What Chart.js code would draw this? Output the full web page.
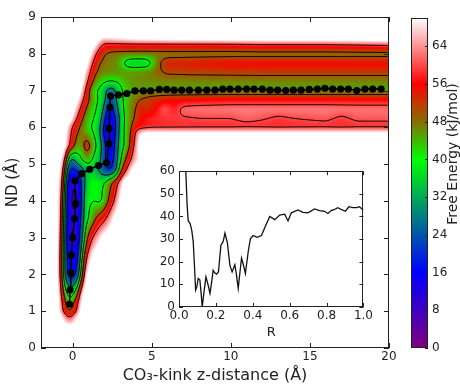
<!DOCTYPE html>
<html>
<head>
<meta charset="utf-8">
<script src="https://cdn.jsdelivr.net/npm/chart.js@4.4.1/dist/chart.umd.min.js"></script>
<style>
  html, body { margin: 0; padding: 0; background: #fff; }
  #wrap { position: relative; width: 460px; height: 385px; overflow: hidden; }
  canvas { position: absolute; }
</style>
</head>
<body>
<div id="wrap">
  <canvas id="main" width="460" height="385" style="left:0;top:0"></canvas>
  <canvas id="inset" width="235" height="180" style="left:140px;top:160px"></canvas>
  <canvas id="cbar" width="60" height="385" style="left:400px;top:0"></canvas>
</div>
<script>
// minimum energy path (black dots)
const pathX = [-0.2, -0.16, -0.12, -0.08, 0.0, 0.12, 0.18, 0.15, 0.57, 1.08, 1.63, 2.15, 2.3, 2.3, 2.36, 2.4,
  2.9, 3.42, 3.94, 4.47, 4.93, 5.48, 5.95, 6.41, 6.89, 7.38, 7.95, 8.48, 9.0, 9.49, 9.95, 10.47, 11.0,
  11.47, 11.99, 12.48, 12.96, 13.47, 13.95, 14.44, 14.96, 15.47, 15.95, 16.44, 16.94, 17.43, 17.96, 18.48, 18.97, 19.5]
const pathY = [1.19, 1.58, 2.04, 2.52, 3.0, 3.52, 3.92, 4.55, 4.74, 4.86, 4.96, 5.04, 5.56, 5.97, 6.54, 6.85,
  6.88, 6.92, 6.99, 6.99, 6.99, 7.03, 7.03, 7.01, 7.01, 7.01, 7.01, 7.01, 7.01, 7.04, 7.04, 7.04, 7.04,
  7.04, 7.04, 7.01, 7.01, 7.0, 7.01, 7.01, 7.03, 7.04, 7.06, 7.04, 7.04, 7.04, 7.0, 7.04, 7.04, 7.04]

// inset: free energy along R
const insetR = [0.036, 0.044, 0.05, 0.06, 0.069, 0.077, 0.084, 0.09, 0.097, 0.104, 0.113, 0.12, 0.126, 0.133,
  0.146, 0.157, 0.168, 0.177, 0.185, 0.195, 0.204, 0.214, 0.227, 0.24, 0.249, 0.262, 0.276, 0.288, 0.303,
  0.312, 0.321, 0.33, 0.339, 0.348, 0.36, 0.375, 0.387, 0.402, 0.423, 0.447, 0.47, 0.492, 0.519, 0.546,
  0.573, 0.591, 0.609, 0.645, 0.672, 0.699, 0.735, 0.762, 0.789, 0.807, 0.825, 0.843, 0.861, 0.879, 0.902,
  0.921, 0.942, 0.964, 0.978, 1.0]
const insetE = [62, 45, 38, 37, 34, 29, 18, 7.5, 9, 12.6, 12, 6, 0, 5, 13.3, 10, 6, 11, 16.2, 15, 14.5,
  15.6, 27.2, 29, 32.6, 28.6, 18.4, 15.5, 18.7, 14, 8.2, 15, 21.6, 19, 14.8, 24.3, 30.1, 31.6, 30.8, 31.6,
  36, 40, 38.6, 40.6, 41, 38, 41.6, 42.9, 41.8, 41.6, 43.3, 42.6, 42.3, 41.3, 42.6, 43.1, 43.9, 43.1, 42.3,
  44.3, 43.9, 43.9, 44.3, 42.8]

// free energy surface: one profile [x, kJ/mol] per ND row (75 = no data / white)
const feRowY = [0.5, 0.85, 1.0, 1.25, 1.5, 2.0, 2.5, 3.0, 3.5, 4.0, 4.5, 4.85, 5.1, 5.5, 5.85, 6.0, 6.25,
  6.5, 6.75, 7.0, 7.25, 7.5, 7.75, 8.0, 8.25, 8.4, 8.55]
const feRows = [
  [[0, 75]],
  [[-0.9, 75], [-0.55, 66], [-0.2, 58], [0.15, 66], [0.5, 75]],
  [[-1.0, 75], [-0.65, 62], [-0.45, 54], [-0.2, 48], [0.05, 54], [0.3, 62], [0.6, 75]],
  [[-1.0, 75], [-0.7, 62], [-0.5, 52], [-0.2, 40], [0.1, 50], [0.38, 62], [0.7, 75]],
  [[-1.0, 75], [-0.74, 62], [-0.58, 50], [-0.4, 40], [-0.15, 34], [0.1, 38], [0.3, 48], [0.48, 62], [0.8, 75]],
  [[-1.1, 75], [-0.78, 62], [-0.66, 50], [-0.56, 36], [-0.45, 22], [-0.2, 16], [0.15, 17], [0.35, 24], [0.5, 40], [0.62, 52], [0.75, 62], [1.0, 75]],
  [[-1.1, 75], [-0.78, 62], [-0.66, 50], [-0.56, 34], [-0.45, 20], [0.0, 13], [0.35, 17], [0.5, 28], [0.62, 42], [0.8, 56], [1.0, 64], [1.3, 72], [1.5, 75]],
  [[-1.1, 75], [-0.75, 62], [-0.64, 50], [-0.55, 34], [-0.45, 18], [-0.05, 6], [0.3, 14], [0.5, 20], [0.65, 34], [0.85, 46], [1.05, 55], [1.35, 62], [1.9, 72], [2.2, 75]],
  [[-1.1, 75], [-0.72, 62], [-0.62, 50], [-0.53, 32], [-0.42, 17], [0.05, 11], [0.4, 14], [0.6, 22], [0.75, 36], [1.0, 40], [1.25, 45], [1.5, 52], [1.9, 57], [2.2, 62], [2.6, 72], [2.9, 75]],
  [[-1.1, 75], [-0.7, 62], [-0.6, 50], [-0.5, 32], [-0.4, 16], [0.15, 6], [0.5, 15], [0.68, 28], [0.85, 38], [1.3, 40], [1.8, 38], [2.1, 46], [2.4, 54], [2.7, 62], [3.0, 72], [3.3, 75]],
  [[-1.1, 75], [-0.65, 62], [-0.55, 50], [-0.46, 32], [-0.36, 16], [0.15, 9], [0.5, 17], [0.75, 30], [1.0, 38], [1.4, 40], [1.9, 38], [2.2, 44], [2.5, 50], [2.8, 58], [3.0, 64], [3.3, 75]],
  [[-1.0, 75], [-0.58, 62], [-0.47, 50], [-0.38, 30], [-0.25, 18], [0.3, 20], [0.6, 28], [1.0, 34], [1.4, 34], [1.9, 24], [2.3, 18], [2.7, 24], [2.9, 40], [3.1, 50], [3.3, 56], [3.5, 64], [3.8, 72], [4.2, 75]],
  [[-0.9, 75], [-0.5, 62], [-0.38, 50], [-0.25, 32], [-0.05, 24], [0.25, 34], [0.6, 40], [0.95, 45], [1.3, 38], [1.7, 34], [1.95, 22], [2.3, 16], [2.65, 20], [2.9, 34], [3.15, 44], [3.4, 52], [3.65, 60], [4.0, 68], [4.5, 72], [4.8, 75]],
  [[-0.6, 75], [-0.25, 62], [-0.05, 54], [0.2, 48], [0.45, 42], [0.9, 57], [1.3, 44], [1.6, 38], [1.85, 30], [2.05, 20], [2.35, 12], [2.65, 18], [2.85, 30], [3.1, 38], [3.4, 42], [3.6, 50], [3.8, 58], [4.0, 64], [4.3, 75]],
  [[-0.55, 75], [-0.15, 62], [0.05, 55], [0.35, 49], [0.7, 47], [1.1, 42], [1.5, 38], [1.8, 28], [2.0, 16], [2.3, 8], [2.6, 15], [2.85, 27], [3.1, 38], [3.4, 42], [3.65, 50], [3.9, 58], [4.2, 68], [4.6, 72]],
  [[-0.5, 75], [-0.1, 62], [0.1, 56], [0.4, 50], [0.7, 46], [1.1, 40], [1.5, 38], [1.8, 28], [2.0, 16], [2.3, 7], [2.6, 14], [2.85, 26], [3.1, 38], [3.4, 42], [3.7, 50], [4.0, 56], [5.0, 58]],
  [[-0.2, 75], [0.2, 62], [0.4, 56], [0.65, 50], [0.9, 44], [1.3, 40], [1.6, 38], [1.85, 30], [2.05, 18], [2.35, 12], [2.65, 17], [2.9, 28], [3.15, 38], [3.5, 44], [3.8, 49], [4.2, 54], [4.6, 57], [5.0, 58], [6.0, 59], [8, 60], [10, 60], [11, 61.5], [12, 60.5], [13, 59], [14, 60], [16, 61], [17, 59], [18, 61], [20, 61]],
  [[0, 75], [0.4, 62], [0.6, 56], [0.85, 50], [1.1, 44], [1.5, 40], [1.8, 36], [2.05, 24], [2.35, 16], [2.65, 22], [2.9, 32], [3.2, 40], [3.6, 46], [4.0, 50], [4.3, 55], [4.7, 52], [5.2, 55], [5.8, 61.5], [6.4, 57], [7, 62], [8, 62.5], [10, 63], [12, 63], [14, 63], [16, 63], [18, 62.5], [20, 62.5]],
  [[0.2, 75], [0.6, 62], [0.8, 56], [1.05, 50], [1.3, 44], [1.6, 40], [1.9, 36], [2.1, 28], [2.4, 22], [2.7, 28], [2.95, 36], [3.3, 42], [3.7, 46], [4.2, 50], [5, 53], [6, 55], [8, 56], [10, 56.5]],
  [[0.4, 75], [0.75, 62], [0.95, 54], [1.15, 46], [1.4, 41], [1.8, 38], [2.1, 30], [2.45, 24], [2.8, 32], [3.1, 40], [3.5, 44], [4, 45]],
  [[0.5, 75], [0.9, 62], [1.1, 55], [1.35, 48], [1.7, 43], [2.0, 41], [2.4, 40], [2.9, 41], [3.3, 44], [3.8, 46], [4.5, 46.5], [20, 46.5]],
  [[0.6, 75], [1.05, 62], [1.25, 55], [1.5, 50], [1.8, 47], [2.2, 46.5], [2.7, 46], [3.2, 46], [3.8, 46], [4.5, 46.5], [5.0, 47.5], [5.5, 49.5], [6, 51], [8, 51.5], [12, 52]],
  [[0.8, 75], [1.2, 62], [1.4, 56], [1.7, 50], [2.2, 47], [2.8, 46.5], [3.2, 40], [3.5, 35], [4.1, 34], [4.7, 35], [5.0, 40], [5.5, 50], [6, 54], [8, 55], [10, 56]],
  [[1.0, 75], [1.4, 62], [1.65, 56], [2.0, 50], [2.5, 47.5], [4, 47], [5, 47], [14, 47]],
  [[1.3, 75], [1.7, 63], [2.0, 58], [10, 58], [12, 59], [16, 59], [18, 60], [20, 61]],
  [[1.5, 75], [1.9, 67], [2.4, 68], [3, 69], [4, 71], [6, 72], [10, 73], [20, 74]],
  [[0, 75]]
]

const xTicks = [0, 5, 10, 15, 20]
const yTicks = [0, 1, 2, 3, 4, 5, 6, 7, 8, 9]
const insetXTicks = [0, 0.2, 0.4, 0.6, 0.8, 1.0]
const insetYTicks = [0, 10, 20, 30, 40, 50, 60]
const cbarTicks = [0, 8, 16, 24, 32, 40, 48, 56, 64]
const cmapStops = [0, 16, 40, 48, 56, 70]
const cmapColors = [[128, 0, 128], [0, 0, 255], [0, 255, 0], [135, 110, 0], [255, 0, 0], [255, 255, 255]]
const contourLevels = [10, 20, 30, 40, 50, 60]

Chart.defaults.font.family = 'DejaVu Sans'
Chart.defaults.color = '#222'

function profileAt(row, x) {
    if (x <= row[0][0]) return row[0][1]
    for (let i = 1; i < row.length; i++) {
        if (x <= row[i][0]) {
            const t = (x - row[i - 1][0]) / (row[i][0] - row[i - 1][0])
            return row[i - 1][1] + t * (row[i][1] - row[i - 1][1])
        }
    }
    return row[row.length - 1][1]
}

function cmap(v) {
    const n = cmapStops.length
    if (v <= cmapStops[0]) return cmapColors[0]
    if (v >= cmapStops[n - 1]) return cmapColors[n - 1]
    let k = 0
    while (v > cmapStops[k + 1]) k++
    const t = (v - cmapStops[k]) / (cmapStops[k + 1] - cmapStops[k])
    const a = cmapColors[k], b = cmapColors[k + 1]
    return [a[0] + t * (b[0] - a[0]), a[1] + t * (b[1] - a[1]), a[2] + t * (b[2] - a[2])]
}

function blur(src, w, h, r) {
    const tmp = new Float32Array(w * h), out = new Float32Array(w * h)
    for (let j = 0; j < h; j++) {
        for (let i = 0; i < w; i++) {
            let s = 0
            for (let d = -r; d <= r; d++) s += src[j * w + Math.min(w - 1, Math.max(0, i + d))]
            tmp[j * w + i] = s / (2 * r + 1)
        }
    }
    for (let j = 0; j < h; j++) {
        for (let i = 0; i < w; i++) {
            let s = 0
            for (let d = -r; d <= r; d++) s += tmp[Math.min(h - 1, Math.max(0, j + d)) * w + i]
            out[j * w + i] = s / (2 * r + 1)
        }
    }
    return out
}

function marching(f, w, h, lv, s, seg) {
    for (let j = 0; j + s < h; j += s) {
        for (let i = 0; i + s < w; i += s) {
            const a = f[j * w + i], b = f[j * w + i + s], c = f[(j + s) * w + i + s], d = f[(j + s) * w + i]
            const p = []
            if ((a < lv) !== (b < lv)) p.push([i + s * (lv - a) / (b - a), j])
            if ((b < lv) !== (c < lv)) p.push([i + s, j + s * (lv - b) / (c - b)])
            if ((d < lv) !== (c < lv)) p.push([i + s * (lv - d) / (c - d), j + s])
            if ((a < lv) !== (d < lv)) p.push([i, j + s * (lv - a) / (d - a)])
            if (p.length === 2) seg(p[0], p[1])
            else if (p.length === 4) { seg(p[0], p[1]); seg(p[2], p[3]) }
        }
    }
}

const heatPlugin = {
    id: 'heat',
    beforeDatasetsDraw(chart) {
        const { ctx, chartArea: a, scales: { x, y } } = chart
        const w = Math.round(a.right - a.left), h = Math.round(a.bottom - a.top)
        const xs = new Float32Array(w)
        for (let i = 0; i < w; i++) xs[i] = x.getValueForPixel(a.left + i + 0.5)
        let f = new Float32Array(w * h)
        for (let j = 0; j < h; j++) {
            const yv = y.getValueForPixel(a.top + j + 0.5)
            let k = 0
            while (k < feRowY.length - 2 && feRowY[k + 1] < yv) k++
            const t = Math.max(0, Math.min(1, (yv - feRowY[k]) / (feRowY[k + 1] - feRowY[k])))
            for (let i = 0; i < w; i++) {
                f[j * w + i] = profileAt(feRows[k], xs[i]) * (1 - t) + profileAt(feRows[k + 1], xs[i]) * t
            }
        }
        f = blur(blur(f, w, h, 2), w, h, 2)

        const off = document.createElement('canvas')
        off.width = w
        off.height = h
        const octx = off.getContext('2d')
        const img = octx.createImageData(w, h)
        for (let p = 0; p < w * h; p++) {
            const c = cmap(f[p])
            img.data[p * 4] = c[0]
            img.data[p * 4 + 1] = c[1]
            img.data[p * 4 + 2] = c[2]
            img.data[p * 4 + 3] = 255
        }
        octx.putImageData(img, 0, 0)

        ctx.save()
        ctx.beginPath()
        ctx.rect(a.left, a.top, w, h)
        ctx.clip()
        ctx.drawImage(off, a.left, a.top)
        ctx.strokeStyle = '#000'
        ctx.lineWidth = 1
        contourLevels.forEach(lv => {
            ctx.beginPath()
            marching(f, w, h, lv, 2, (p, q) => {
                ctx.moveTo(a.left + p[0] + 0.5, a.top + p[1] + 0.5)
                ctx.lineTo(a.left + q[0] + 0.5, a.top + q[1] + 0.5)
            })
            ctx.stroke()
        })
        ctx.restore()
    }
}

// box round the plot with inward ticks on every side
function framePlugin(len, sides) {
    return {
        id: 'frame',
        afterDraw(chart) {
            const { ctx, chartArea: a, scales } = chart
            ctx.save()
            ctx.strokeStyle = '#222'
            ctx.lineWidth = 1
            ctx.strokeRect(Math.round(a.left) + 0.5, Math.round(a.top) + 0.5,
                Math.round(a.right - a.left) - 1, Math.round(a.bottom - a.top) - 1)
            ctx.beginPath()
            if (sides.includes('x')) {
                scales.x.ticks.forEach(t => {
                    const px = Math.round(scales.x.getPixelForValue(t.value)) + 0.5
                    ctx.moveTo(px, a.bottom); ctx.lineTo(px, a.bottom - len)
                    ctx.moveTo(px, a.top); ctx.lineTo(px, a.top + len)
                })
            }
            scales.y.ticks.forEach(t => {
                const py = Math.round(scales.y.getPixelForValue(t.value)) + 0.5
                if (sides.includes('l')) { ctx.moveTo(a.left, py); ctx.lineTo(a.left + len, py) }
                ctx.moveTo(a.right, py); ctx.lineTo(a.right - len, py)
            })
            ctx.stroke()
            ctx.restore()
        }
    }
}

function fixedTicks(list) {
    return scale => { scale.ticks = list.map(v => ({ value: v })) }
}

new Chart(document.getElementById('main'), {
    type: 'scatter',
    data: {
        datasets: [{
            data: pathX.map((x, i) => ({ x: x, y: pathY[i] })),
            showLine: true,
            borderColor: '#000',
            backgroundColor: '#000',
            borderWidth: 1.6,
            pointRadius: 3.6,
            pointBorderWidth: 0
        }]
    },
    options: {
        responsive: false,
        animation: false,
        events: [],
        layout: { padding: { left: 0, top: 17, right: 71, bottom: 0 } },
        plugins: { legend: { display: false }, tooltip: { enabled: false } },
        scales: {
            x: {
                type: 'linear', min: -2, max: 20,
                afterBuildTicks: fixedTicks(xTicks),
                afterFit: s => { s.height = 37 },
                grid: { display: false, drawTicks: false },
                border: { display: false },
                ticks: { font: { size: 12 }, padding: 2, maxRotation: 0, autoSkip: false },
                title: { display: true, text: 'CO₃-kink z-distance (Å)', font: { size: 16 }, padding: 0 }
            },
            y: {
                type: 'linear', min: 0, max: 9,
                afterBuildTicks: fixedTicks(yTicks),
                afterFit: s => { s.width = 41 },
                grid: { display: false, drawTicks: false },
                border: { display: false },
                ticks: { font: { size: 12 }, padding: 5, autoSkip: false },
                title: { display: true, text: 'ND (Å)', font: { size: 15 }, padding: 4 }
            }
        }
    },
    plugins: [heatPlugin, framePlugin(5, 'xl')]
})

new Chart(document.getElementById('inset'), {
    type: 'scatter',
    data: {
        datasets: [{
            data: insetR.map((r, i) => ({ x: r, y: insetE[i] })),
            showLine: true,
            borderColor: '#111',
            borderWidth: 1.3,
            pointRadius: 0
        }]
    },
    options: {
        responsive: false,
        animation: false,
        events: [],
        layout: { padding: { left: 0, top: 10, right: 11, bottom: 0 } },
        plugins: { legend: { display: false }, tooltip: { enabled: false } },
        scales: {
            x: {
                type: 'linear', min: 0, max: 1,
                afterBuildTicks: fixedTicks(insetXTicks),
                afterFit: s => { s.height = 33 },
                grid: { display: false, drawTicks: false },
                border: { display: false },
                ticks: { font: { size: 12 }, padding: 2, maxRotation: 0, callback: v => v.toFixed(1) },
                title: { display: true, text: 'R', font: { size: 13 }, padding: 0 }
            },
            y: {
                type: 'linear', min: 0, max: 60,
                afterBuildTicks: fixedTicks(insetYTicks),
                afterFit: s => { s.width = 39 },
                grid: { display: false, drawTicks: false },
                border: { display: false },
                ticks: { font: { size: 12 }, padding: 4 }
            }
        }
    },
    plugins: [framePlugin(4, 'xl')]
})

const cbarTitle = {
    id: 'cbarTitle',
    afterDraw(chart) {
        const ctx = chart.ctx
        ctx.save()
        ctx.translate(57, 154)
        ctx.rotate(-Math.PI / 2)
        ctx.font = '14px "DejaVu Sans"'
        ctx.fillStyle = '#222'
        ctx.textAlign = 'center'
        ctx.textBaseline = 'alphabetic'
        ctx.fillText('Free Energy (kJ/mol)', 0, 0)
        ctx.restore()
    }
}

new Chart(document.getElementById('cbar'), {
    type: 'bar',
    data: {
        labels: ['fe'],
        datasets: [{
            data: [[cmapStops[0], cmapStops[cmapStops.length - 1]]],
            backgroundColor: c => {
                const ch = c.chart
                if (!ch.chartArea) return '#888'
                const ys = ch.scales.y
                const top = cmapStops[cmapStops.length - 1]
                const g = ch.ctx.createLinearGradient(0, ys.getPixelForValue(0), 0, ys.getPixelForValue(top))
                cmapStops.forEach((v, i) => g.addColorStop(v / top, 'rgb(' + cmapColors[i].join(',') + ')'))
                return g
            },
            barPercentage: 1,
            categoryPercentage: 1,
            borderWidth: 0
        }]
    },
    options: {
        responsive: false,
        animation: false,
        events: [],
        layout: { padding: { left: 11, top: 18, right: 0, bottom: 37 } },
        plugins: { legend: { display: false }, tooltip: { enabled: false } },
        scales: {
            x: { display: false },
            y: {
                position: 'right', min: 0, max: 70,
                afterBuildTicks: fixedTicks(cbarTicks),
                afterFit: s => { s.width = 32 },
                grid: { display: false, drawTicks: false },
                border: { display: false },
                ticks: { font: { size: 12 }, padding: 4 }
            }
        }
    },
    plugins: [framePlugin(3, ''), cbarTitle]
})
</script>
</body>
</html>
